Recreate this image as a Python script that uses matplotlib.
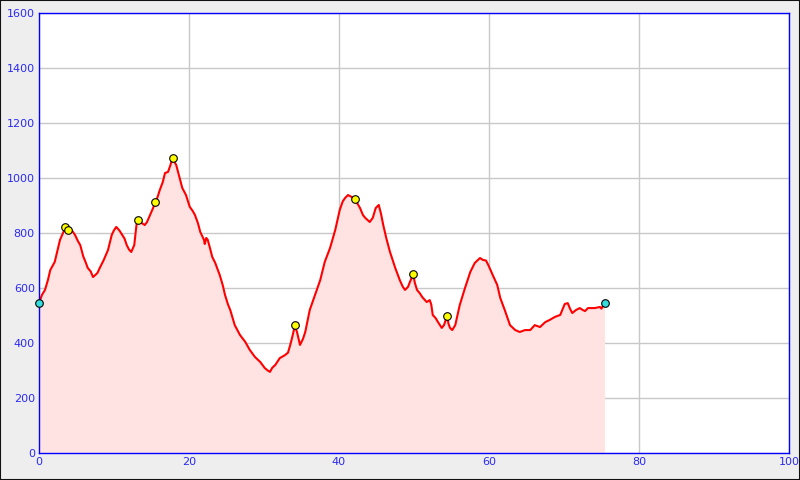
import matplotlib
matplotlib.use('Agg')
import matplotlib.pyplot as plt
from matplotlib.patches import Rectangle

# profile: distance (km) / elevation (m)
dist = [0.0, 0.4, 0.8, 1.2, 1.5, 1.8, 2.1, 2.5, 2.8, 3.2, 3.5, 3.8, 4.1, 4.5, 4.8, 5.2, 5.5,
        5.9, 6.2, 6.5, 6.9, 7.2, 7.5, 7.8, 8.1, 8.6, 9.2, 9.7, 10.0, 10.3, 10.7, 11.1, 11.4,
        11.7, 12.0, 12.3, 12.7, 13.0, 13.2, 13.5, 13.7, 14.1, 14.4, 14.8, 15.2, 15.5, 15.8,
        16.1, 16.5, 16.8, 17.2, 17.5, 17.8, 18.3, 18.7, 19.1, 19.6, 20.1, 20.5, 20.8, 21.2,
        21.5, 22.0, 22.1, 22.3, 22.5, 22.8, 23.1, 23.5, 24.1, 24.5, 24.8, 25.2, 25.5, 26.1,
        26.8, 27.5, 28.1, 28.8, 29.5, 30.1, 30.5, 30.8, 31.1, 31.5, 32.1, 32.8, 33.2, 33.5,
        33.8, 34.1, 34.4, 34.8, 35.2, 35.5, 36.1, 36.8, 37.5, 38.1, 38.8, 39.5, 40.1, 40.5,
        40.8, 41.2, 41.7, 42.1, 42.5, 42.8, 43.2, 43.5, 44.1, 44.5, 44.9, 45.3, 45.6, 45.9,
        46.3, 46.8, 47.5, 48.1, 48.5, 48.8, 49.2, 49.5, 49.9, 50.1, 50.4, 50.8, 51.1, 51.7,
        52.1, 52.3, 52.5, 52.9, 53.2, 53.7, 54.0, 54.3, 54.4, 54.6, 54.8, 55.1, 55.5, 56.1,
        56.8, 57.5, 58.1, 58.8, 59.2, 59.6, 59.9, 60.5, 61.1, 61.5, 62.1, 62.8, 63.5, 64.1,
        64.8, 65.5, 66.1, 66.8, 67.5, 68.1, 68.8, 69.5, 70.1, 70.5, 70.8, 71.1, 71.6, 72.1,
        72.5, 72.8, 73.2, 73.5, 74.1, 74.8, 75.0, 75.4]
elev = [545, 575, 593, 630, 665, 680, 695, 740, 775, 800, 820, 810, 818, 805, 793, 770, 756,
        715, 695, 673, 660, 640, 647, 655, 673, 700, 738, 793, 810, 822, 810, 793, 780,
        756, 740, 731, 756, 830, 846, 838, 836, 829, 840, 865, 890, 913, 930,
        956, 985, 1018, 1022, 1045, 1072, 1047, 1005, 964, 938, 895, 880, 865, 835,
        804, 775, 760, 782, 775, 745, 713, 691, 647, 610, 575, 540, 520, 465,
        429, 404, 375, 349, 331, 309, 300, 295, 310, 320, 345, 356, 365, 393,
        425, 462, 440, 393, 415, 440, 520, 575, 629, 695, 745, 811, 884, 915,
        927, 938, 931, 924, 905, 891, 865, 855, 840, 855, 891, 902, 870, 829,
        782, 731, 673, 629, 605, 593, 604, 625, 651, 620, 593, 580, 567, 549,
        556, 540, 502, 490, 476, 455, 465, 490, 500, 470, 455, 447, 465, 538,
        600, 658, 691, 709, 702, 700, 684, 647, 611, 564, 520, 465, 447, 440,
        447, 447, 465, 458, 476, 484, 495, 502, 542, 545, 525, 509, 520, 527,
        520, 516, 527, 527, 527, 531, 525, 545]

# marked points
mark_x = [3.5, 3.8, 13.2, 15.5, 17.8, 34.1, 42.1, 49.9, 54.4]
mark_y = [822, 810, 847, 912, 1072, 464, 922, 650, 500]
end_x = [0.0, 75.4]
end_y = [545, 544]

blue = '#2a2af5'

fig = plt.figure(figsize=(8, 4.8), dpi=100, facecolor='#eeeeee')
fig.patches.append(Rectangle((0, 0), 1, 1, transform=fig.transFigure, fill=False,
                             edgecolor='#111111', linewidth=1.5))
ax = fig.add_axes([39 / 800, 27 / 480, 750 / 800, 440 / 480])
ax.set_facecolor('white')

ax.fill_between(dist, elev, 0, color='#ffe2e2', lw=0)
ax.plot(dist, elev, color='red', lw=1.5)
ax.scatter(mark_x, mark_y, s=30, c='yellow', edgecolors='black', linewidths=0.8, zorder=5)
ax.scatter(end_x, end_y, s=30, c='#33dddd', edgecolors='black', linewidths=0.8, zorder=5,
           clip_on=False)

ax.set_xlim(0, 100)
ax.set_ylim(0, 1600)
ax.set_xticks(range(0, 101, 20))
ax.set_yticks(range(0, 1601, 200))
ax.grid(True, color='#c8c8c8', lw=1)
ax.set_axisbelow(True)
ax.tick_params(length=0, labelsize=8, labelcolor=blue, pad=3)
for s in ax.spines.values():
    s.set_color('#0000ff')
    s.set_linewidth(1)

fig.savefig('out.png', dpi=100, facecolor=fig.get_facecolor())
